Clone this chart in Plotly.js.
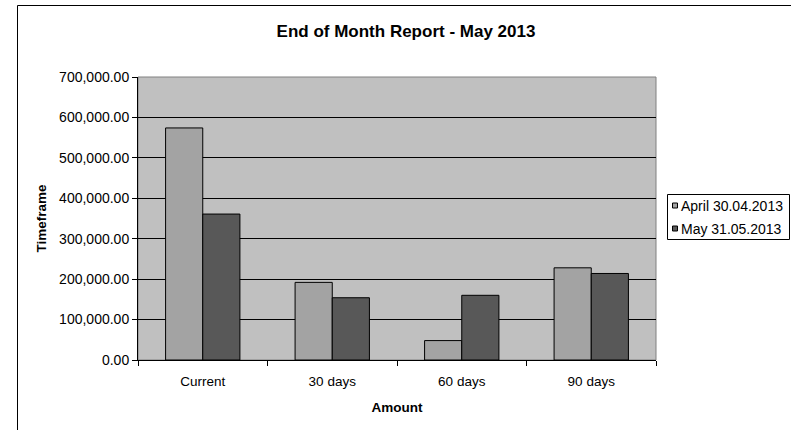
<!DOCTYPE html>
<html>
<head>
<meta charset="utf-8">
<script src="https://cdn.plot.ly/plotly-3.0.1.min.js"></script>
<style>
  html, body { margin: 0; padding: 0; background: #ffffff; }
  #chart { width: 791px; height: 430px; }
</style>
</head>
<body>
<div id="chart"></div>
<script>
// Outstanding amounts by ageing bucket, two month-end snapshots
const categories = ["Current", "30 days", "60 days", "90 days"];
const aprilValues = [574000, 192000, 48000, 228000];
const mayValues = [361000, 154000, 160000, 214000];
const seriesNames = ["April 30.04.2013", "May 31.05.2013"];
const seriesColors = ["#a3a3a3", "#585858"];
const yTickValues = [0, 100000, 200000, 300000, 400000, 500000, 600000, 700000];
const yTickLabels = ["0.00", "100,000.00", "200,000.00", "300,000.00", "400,000.00", "500,000.00", "600,000.00", "700,000.00"];

const W = 791, H = 430;
const margin = { l: 138, r: 135, t: 77, b: 70, pad: 0, autoexpand: false };
const plotW = W - margin.l - margin.r;
const plotH = H - margin.t - margin.b;
// pixel position -> paper fraction
const px = x => (x - margin.l) / plotW;
const py = y => (H - margin.b - y) / plotH;

const font = "Liberation Sans, Arial, sans-serif";
const seriesValues = [aprilValues, mayValues];

const traces = seriesValues.map((vals, i) => ({
  type: "bar",
  name: seriesNames[i],
  x: categories,
  y: vals,
  marker: { color: seriesColors[i], line: { color: "#000000", width: 1 } },
  hoverinfo: "skip"
}));

// Boxed key to the right of the plot, Excel style
const legendBox = { left: 667.5, top: 194.5, right: 789.5, bottom: 239.5 };
const legendRows = [205.5, 228.5];
const legendShapes = [
  {
    type: "rect", xref: "paper", yref: "paper",
    x0: px(legendBox.left), x1: px(legendBox.right),
    y0: py(legendBox.bottom), y1: py(legendBox.top),
    line: { color: "#000000", width: 1 },
    fillcolor: "#ffffff",
    layer: "above"
  }
];
const legendLabels = [];
seriesNames.forEach((name, i) => {
  const cy = legendRows[i];
  legendShapes.push({
    type: "rect", xref: "paper", yref: "paper",
    x0: px(672.5), x1: px(677.5), y0: py(cy + 2.5), y1: py(cy - 2.5),
    line: { color: "#000000", width: 1 },
    fillcolor: seriesColors[i],
    layer: "above"
  });
  legendLabels.push({
    xref: "paper", yref: "paper",
    x: px(679), y: py(cy),
    xanchor: "left", yanchor: "middle",
    text: name,
    showarrow: false,
    font: { family: font, size: 14, color: "#000000" }
  });
});

const layout = {
  width: W,
  height: H,
  margin: margin,
  paper_bgcolor: "#ffffff",
  plot_bgcolor: "#c0c0c0",
  font: { family: font, size: 13.5, color: "#000000" },
  barmode: "group",
  bargap: 0.426,
  bargroupgap: 0,
  showlegend: false,
  title: {
    text: "<b>End of Month Report - May 2013</b>",
    font: { family: font, size: 17, color: "#000000" },
    xref: "container", yref: "container",
    x: 406 / W, y: 1 - 31 / H,
    xanchor: "center", yanchor: "middle"
  },
  xaxis: {
    type: "category",
    showgrid: false,
    zeroline: false,
    showline: true,
    linecolor: "#000000",
    linewidth: 1,
    ticks: "outside",
    tickson: "boundaries",
    ticklen: 5,
    tickcolor: "#000000",
    ticklabelstandoff: 9,
    tickfont: { family: font, size: 13.5, color: "#000000" },
    title: {
      text: "<b>Amount</b>",
      font: { family: font, size: 13.5, color: "#000000" },
      standoff: 14
    },
    automargin: false
  },
  yaxis: {
    range: [0, 700000],
    tickvals: yTickValues,
    ticktext: yTickLabels,
    showgrid: true,
    gridcolor: "#000000",
    gridwidth: 1,
    zeroline: false,
    showline: true,
    linecolor: "#000000",
    linewidth: 1,
    ticks: "outside",
    ticklen: 5,
    tickcolor: "#000000",
    tickfont: { family: font, size: 14, color: "#000000" },
    title: {
      text: "<b>Timeframe</b>",
      font: { family: font, size: 13.5, color: "#000000" },
      standoff: 9
    },
    automargin: false
  },
  annotations: legendLabels,
  shapes: [
    // grey frame on the top and right of the plotting area
    {
      type: "rect", xref: "paper", yref: "paper",
      x0: 0, x1: 1, y0: 0, y1: 1,
      line: { color: "#808080", width: 1 },
      fillcolor: "rgba(0,0,0,0)",
      layer: "below"
    },
    // outer chart frame
    {
      type: "rect", xref: "paper", yref: "paper",
      x0: px(17.5), x1: px(820), y0: py(460), y1: py(5.5),
      line: { color: "#000000", width: 1 },
      fillcolor: "rgba(0,0,0,0)",
      layer: "below"
    }
  ].concat(legendShapes)
};

Plotly.newPlot("chart", traces, layout, { displayModeBar: false, staticPlot: true });
</script>
</body>
</html>
